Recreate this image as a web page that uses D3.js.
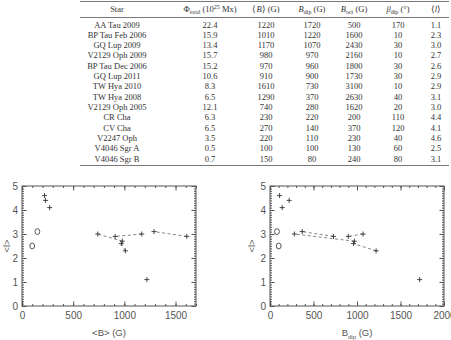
<!DOCTYPE html>
<html>
<head>
<meta charset="utf-8">
<script src="https://cdn.jsdelivr.net/npm/d3@7"></script>
<style>
body { margin: 0; background: #fff; }
svg { display: block; }
</style>
</head>
<body>
<svg id="chart" width="451" height="340"></svg>
<script>
// table rows
var stars = ["AA Tau 2009", "BP Tau Feb 2006", "GQ Lup 2009", "V2129 Oph 2009", "BP Tau Dec 2006",
    "GQ Lup 2011", "TW Hya 2010", "TW Hya 2008", "V2129 Oph 2005", "CR Cha", "CV Cha",
    "V2247 Oph", "V4046 Sgr A", "V4046 Sgr B"];
var phiTotal = [22.4, 15.9, 13.4, 15.7, 15.2, 10.6, 8.3, 6.5, 12.1, 6.3, 6.5, 3.5, 0.5, 0.7];
var bMean = [1220, 1010, 1170, 980, 970, 910, 1610, 1290, 740, 230, 270, 220, 100, 150];
var bDip = [1720, 1220, 1070, 970, 960, 900, 730, 370, 280, 220, 140, 110, 100, 80];
var bOct = [500, 1600, 2430, 2160, 1800, 1730, 3100, 2630, 1620, 200, 370, 230, 130, 240];
var betaDip = [170, 10, 30, 10, 30, 30, 10, 40, 20, 110, 120, 40, 60, 80];
var lMean = [1.1, 2.3, 3.0, 2.7, 2.6, 2.9, 2.9, 3.1, 3.0, 4.4, 4.1, 4.6, 2.5, 3.1];

// same star seen twice -> joined with a dashed line
var pairs = [["BP Tau Feb 2006", "BP Tau Dec 2006"], ["GQ Lup 2009", "GQ Lup 2011"],
    ["V2129 Oph 2009", "V2129 Oph 2005"], ["TW Hya 2010", "TW Hya 2008"]];
// plotted with an open circle instead of a plus
var ringStars = ["V4046 Sgr A", "V4046 Sgr B"];

var xTicksB = [0, 500, 1000, 1500];
var xTicksDip = [0, 500, 1000, 1500, 2000];
var yTicks = [0, 1, 2, 3, 4, 5];

var svg = d3.select("#chart");
var ink = "#333";

// ---------- table ----------
var tbl = svg.append("g")
    .attr("font-family", "'Liberation Serif', 'Times New Roman', serif")
    .attr("font-size", 8.5)
    .attr("fill", ink);

var colX = [117, 210, 266, 312, 354, 398, 436];
var rowY = d3.scalePoint().domain(stars).range([27.5, 161.5]);

tbl.append("line").attr("x1", 80).attr("x2", 449).attr("y1", 1.5).attr("y2", 1.5)
    .attr("stroke", "#555").attr("stroke-width", 0.8);
tbl.append("line").attr("x1", 80).attr("x2", 449).attr("y1", 17.5).attr("y2", 17.5)
    .attr("stroke", "#555").attr("stroke-width", 0.8);
tbl.append("line").attr("x1", 80).attr("x2", 449).attr("y1", 165.5).attr("y2", 165.5)
    .attr("stroke", "#555").attr("stroke-width", 0.8);

// header cells: [text, subscript, rest, superscript, tail]
var head = [
    [["Star"]],
    [["\u03A6"], ["total", "sub"], [" (10"], ["25", "sup"], [" Mx)"]],
    [["\u27E8"], ["B", "it"], ["\u27E9 (G)"]],
    [["B", "it"], ["dip", "sub"], [" (G)"]],
    [["B", "it"], ["oct", "sub"], [" (G)"]],
    [["\u03B2", "it"], ["dip", "sub"], [" (\u00B0)"]],
    [["\u27E8"], ["l", "it"], ["\u27E9"]]
];
head.forEach(function(parts, i) {
    var t = tbl.append("text").attr("x", colX[i]).attr("y", 11.5).attr("text-anchor", "middle");
    var shift = 0;
    parts.forEach(function(p) {
        var s = t.append("tspan").text(p[0]);
        var want = 0;
        if (p[1] == "sub") { want = 2; s.attr("font-size", 6); }
        if (p[1] == "sup") { want = -3; s.attr("font-size", 6); }
        if (p[1] == "it") s.attr("font-style", "italic");
        if (want != shift) { s.attr("dy", want - shift); shift = want; }
    });
});

var cells = [stars, phiTotal.map(function(d) { return d.toFixed(1); }), bMean, bDip, bOct, betaDip,
    lMean.map(function(d) { return d.toFixed(1); })];
cells.forEach(function(col, i) {
    tbl.selectAll("text.c" + i)
        .data(col)
        .enter().append("text")
        .attr("class", "c" + i)
        .attr("x", colX[i])
        .attr("y", function(d, j) { return rowY(stars[j]); })
        .attr("text-anchor", "middle")
        .text(function(d) { return d; });
});

// ---------- scatter panels ----------
var yTop = 186, yBot = 306;
var y = d3.scaleLinear().domain([0, 5]).range([yBot, yTop]);

function panel(xVals, x, majors, titleParts, yTitleX) {
    var g = svg.append("g")
        .attr("font-family", "'Liberation Sans', Arial, sans-serif")
        .attr("font-size", 9.5);
    var x0 = x.range()[0], x1 = x.range()[1];
    var xMinor = d3.range(0, x.domain()[1] + 1, 100);
    var yMinor = d3.range(0, 50.5, 1).map(function(d) { return d / 10; });

    function drawAxis(axis, tr) {
        var a = g.append("g").attr("transform", tr).call(axis);
        a.select(".domain").remove();
        a.selectAll("line").attr("stroke", "#555");
        a.selectAll("text").attr("fill", "#555");
        return a;
    }
    // bottom / top
    drawAxis(d3.axisBottom(x).tickValues(majors).tickSize(-4.5).tickPadding(6)
        .tickFormat(d3.format("d")), "translate(0," + yBot + ")");
    drawAxis(d3.axisBottom(x).tickValues(xMinor).tickSize(-2).tickFormat(""), "translate(0," + yBot + ")");
    drawAxis(d3.axisTop(x).tickValues(majors).tickSize(-4.5).tickFormat(""), "translate(0," + yTop + ")");
    drawAxis(d3.axisTop(x).tickValues(xMinor).tickSize(-2).tickFormat(""), "translate(0," + yTop + ")");
    // left / right
    drawAxis(d3.axisLeft(y).tickValues(yTicks).tickSize(-4.5).tickPadding(4)
        .tickFormat(d3.format("d")), "translate(" + x0 + ",0)");
    drawAxis(d3.axisLeft(y).tickValues(yMinor).tickSize(-2).tickFormat(""), "translate(" + x0 + ",0)");
    drawAxis(d3.axisRight(y).tickValues(yTicks).tickSize(-4.5).tickFormat(""), "translate(" + x1 + ",0)");
    drawAxis(d3.axisRight(y).tickValues(yMinor).tickSize(-2).tickFormat(""), "translate(" + x1 + ",0)");

    g.append("rect").attr("x", x0).attr("y", yTop).attr("width", x1 - x0).attr("height", yBot - yTop)
        .attr("fill", "none").attr("stroke", "#555").attr("stroke-width", 1);

    // x title
    var t = g.append("text").attr("x", (x0 + x1) / 2).attr("y", 336).attr("text-anchor", "middle")
        .attr("fill", "#555");
    t.append("tspan").text(titleParts[0]);
    if (titleParts.length > 1) {
        t.append("tspan").attr("font-size", 6).attr("dy", 3).text(titleParts[1]);
        t.append("tspan").attr("dy", -3).text(titleParts[2]);
    }
    // y title
    g.append("text")
        .attr("transform", "translate(" + yTitleX + "," + (yTop + yBot) / 2 + ") rotate(-90)")
        .attr("text-anchor", "middle").attr("dy", "0.35em").attr("fill", "#555")
        .text("<l>");

    // dashed links between epochs
    pairs.forEach(function(p) {
        var a = stars.indexOf(p[0]), b = stars.indexOf(p[1]);
        g.append("line")
            .attr("x1", x(xVals[a])).attr("y1", y(lMean[a]))
            .attr("x2", x(xVals[b])).attr("y2", y(lMean[b]))
            .attr("stroke", "#666").attr("stroke-width", 0.8).attr("stroke-dasharray", "3,2.5");
    });

    var pts = stars.map(function(s, i) { return { name: s, x: xVals[i], y: lMean[i] }; });
    g.selectAll("path.plus")
        .data(pts.filter(function(d) { return ringStars.indexOf(d.name) < 0; }))
        .enter().append("path")
        .attr("class", "plus")
        .attr("d", function(d) {
            var cx = x(d.x), cy = y(d.y);
            return "M" + (cx - 2.5) + "," + cy + "H" + (cx + 2.5) + "M" + cx + "," + (cy - 2.5) + "V" + (cy + 2.5);
        })
        .attr("stroke", ink).attr("stroke-width", 0.9);
    g.selectAll("ellipse.ring")
        .data(pts.filter(function(d) { return ringStars.indexOf(d.name) >= 0; }))
        .enter().append("ellipse")
        .attr("class", "ring")
        .attr("cx", function(d) { return x(d.x); })
        .attr("cy", function(d) { return y(d.y); })
        .attr("rx", 2.4).attr("ry", 2.9)
        .attr("fill", "none").attr("stroke", "#444").attr("stroke-width", 0.9);
}

var xB = d3.scaleLinear().domain([0, 1700]).range([22, 196]);
panel(bMean, xB, xTicksB, ["<B> (G)"], 7);

var xD = d3.scaleLinear().domain([0, 2000]).range([270, 444]);
panel(bDip, xD, xTicksDip, ["B", "dip", " (G)"], 252);
</script>
</body>
</html>
